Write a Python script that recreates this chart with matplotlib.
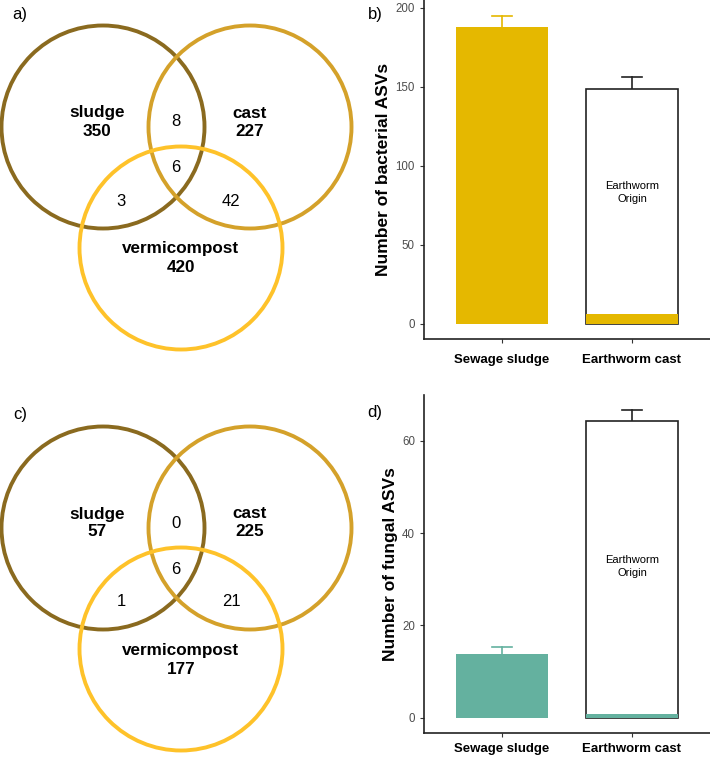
import numpy as np
import matplotlib
matplotlib.use("Agg")
import matplotlib.pyplot as plt
from matplotlib.patches import Circle

plt.rcParams['font.family'] = ['Liberation Sans', 'DejaVu Sans']

# Venn counts: sludge only, cast only, vermicompost only,
# sludge&cast, all three, sludge&vermi, cast&vermi
venn_sets = ['sludge', 'cast', 'vermicompost']
venn_bact = [350, 227, 420, 8, 6, 3, 42]
venn_fung = [57, 225, 177, 0, 6, 1, 21]

# bar charts
categories = ['Sewage sludge', 'Earthworm cast']
bact_mean = [188, 148.5]
bact_err = [195, 156]
bact_origin = [None, 6.2]
fung_mean = [13.7, 64.4]
fung_err = [15.4, 66.6]
fung_origin = [None, 0.7]

W, H = 710, 759
fig = plt.figure(figsize=(W / 100, H / 100), dpi=100)

# overlay axes in pixel coords for the venn panels
ov = fig.add_axes([0, 0, 1, 1], zorder=0)
ov.set_xlim(0, W)
ov.set_ylim(H, 0)
ov.axis('off')

circle_cols = ['#8A6A1F', '#D4A12A', '#FEC22A']


def draw_venn(counts, y0, tag):
    # circle centres relative to panel top
    centres = [(103, y0 + 102), (250, y0 + 102), (181, y0 + 223)]
    for (cx, cy), col in zip(centres, circle_cols):
        ov.add_patch(Circle((cx, cy), 101.5, fill=False, ec=col, lw=2.8))
    big = dict(ha='center', va='center', fontsize=12.3, fontweight='bold')
    small = dict(ha='center', va='center', fontsize=12)
    ov.text(97, y0 + 88, venn_sets[0], **big)
    ov.text(97, y0 + 106, str(counts[0]), **big)
    ov.text(250, y0 + 88, venn_sets[1], **big)
    ov.text(250, y0 + 106, str(counts[1]), **big)
    ov.text(181, y0 + 224, venn_sets[2], **big)
    ov.text(181, y0 + 243, str(counts[2]), **big)
    ov.text(176, y0 + 97, str(counts[3]), **small)
    ov.text(176, y0 + 143, str(counts[4]), **small)
    ov.text(121, y0 + 176, str(counts[5]), **small)
    ov.text(231, y0 + 176, str(counts[6]), **small)
    ov.text(20, y0 - 11, tag, ha='center', va='center', fontsize=12)


draw_venn(venn_bact, 25, 'a)')
draw_venn(venn_fung, 426, 'c)')


def draw_bars(rect, mean, err, origin, color, ylim, ticks, ylabel, tag, tag_y, xpad):
    ax = fig.add_axes(rect, zorder=2)
    x = np.arange(1, len(categories) + 1)
    w = 0.71
    # first bar filled, second bar open with coloured base
    ax.bar(x[0], mean[0], w, color=color, zorder=2)
    ax.bar(x[1], mean[1], w, color='white', edgecolor='#222222', lw=1.2, zorder=2)
    ax.bar(x[1], origin[1], w, color=color, zorder=3)
    err_cols = [color, '#222222']
    for xi, m, e, c in zip(x, mean, err, err_cols):
        ax.plot([xi, xi], [m, e], color=c, lw=1.2, zorder=1)
        ax.plot([xi - 0.077, xi + 0.077], [e, e], color=c, lw=1.2, zorder=1)
    ax.set_xlim(0.4, 2.6)
    ax.set_ylim(*ylim)
    ax.set_yticks(ticks)
    ax.set_xticks(x)
    ax.set_xticklabels(categories, fontsize=9.5, fontweight='bold')
    ax.tick_params(axis='y', labelsize=8.3, colors='#333333', labelcolor='#4d4d4d', length=3)
    ax.tick_params(axis='x', colors='#333333', labelcolor='black', length=3, pad=xpad)
    ax.set_ylabel(ylabel, fontsize=12.5, fontweight='bold', labelpad=3)
    for s in ['top', 'right']:
        ax.spines[s].set_visible(False)
    for s in ['left', 'bottom']:
        ax.spines[s].set_linewidth(1.2)
        ax.spines[s].set_color('#222222')
    ax.patch.set_alpha(0)
    fig.text(375 / W, 1 - tag_y / H, tag, ha='center', va='center', fontsize=12)
    return ax


axb = draw_bars([424 / W, (759 - 339) / H, 286 / W, 338.5 / H], bact_mean, bact_err,
                bact_origin, '#E5B800', (-9.75, 204.75), [0, 50, 100, 150, 200],
                'Number of bacterial ASVs', 'b)', 14, 8)
axb.text(2, 83, 'Earthworm\nOrigin', ha='center', va='center', fontsize=8, linespacing=1.4)

axd = draw_bars([424 / W, (759 - 733) / H, 286 / W, 338 / H], fung_mean, fung_err,
                fung_origin, '#64B19F', (-3.33, 69.93), [0, 20, 40, 60],
                'Number of fungal ASVs', 'd)', 413, 4)
axd.text(2, 32.7, 'Earthworm\nOrigin', ha='center', va='center', fontsize=8, linespacing=1.4)

fig.savefig('out.png', dpi=100)
